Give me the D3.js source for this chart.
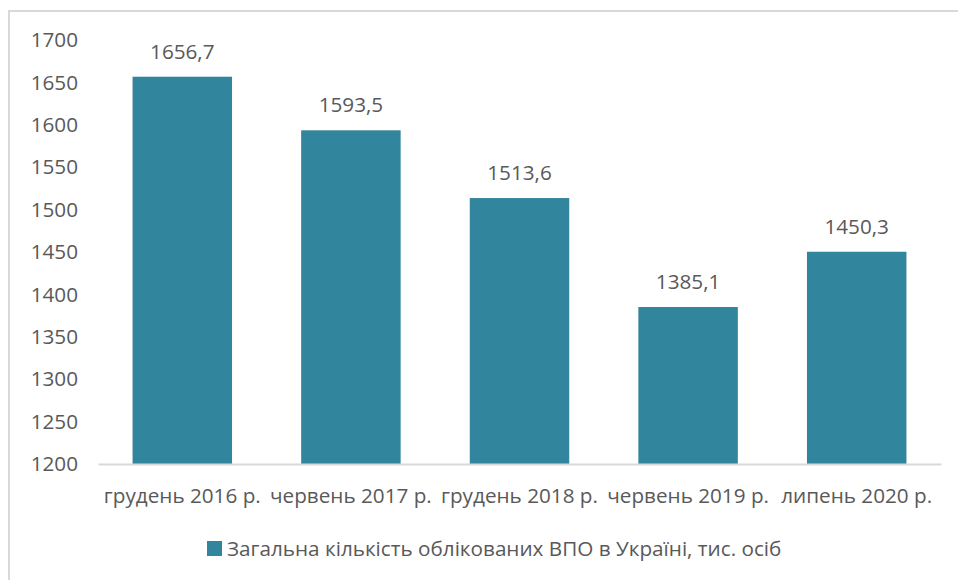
<!DOCTYPE html>
<html>
<head>
<meta charset="utf-8">
<script src="https://cdn.jsdelivr.net/npm/d3@7"></script>
<style>
  body { margin: 0; background: #fff; }
  svg { display: block; font-family: 'Open Sans', sans-serif; }
</style>
</head>
<body>
<script>
const categories = ['грудень 2016 р.', 'червень 2017 р.', 'грудень 2018 р.', 'червень 2019 р.', 'липень 2020 р.'];
const values = [1656.7, 1593.5, 1513.6, 1385.1, 1450.3];
const yTicks = [1200, 1250, 1300, 1350, 1400, 1450, 1500, 1550, 1600, 1650, 1700];
const seriesName = 'Загальна кількість облікованих ВПО в Україні, тис. осіб';

const width = 958, height = 580;
const textColor = '#595959';
const barColor = '#31859c';
const fontSize = '20.7px';

const svg = d3.select('body').append('svg').attr('width', width).attr('height', height);

// chart frame (only top and left edges visible)
svg.append('rect')
  .attr('x', 9).attr('y', 11)
  .attr('width', 1000).attr('height', 1000)
  .attr('fill', 'none')
  .attr('stroke', '#d9d9d9')
  .attr('stroke-width', 2);

const x = d3.scaleBand().domain(categories).range([98, 941]).paddingInner(0.41).paddingOuter(0.205);
const y = d3.scaleLinear().domain([1200, 1700]).range([464, 40]);

const yAxis = svg.append('g')
  .attr('transform', 'translate(78,0)')
  .call(d3.axisLeft(y).tickValues(yTicks).tickFormat(d3.format('d')).tickSize(0).tickPadding(0));
yAxis.select('.domain').remove();
yAxis.selectAll('text')
  .attr('fill', textColor)
  .style('font-size', fontSize)
  .style('font-family', "'Open Sans', sans-serif");

svg.selectAll('rect.bar')
  .data(values)
  .enter().append('rect')
    .attr('class', 'bar')
    .attr('x', (d, i) => x(categories[i]))
    .attr('width', x.bandwidth())
    .attr('y', d => y(d))
    .attr('height', d => y(1200) - y(d))
    .attr('fill', barColor);

svg.selectAll('text.label')
  .data(values)
  .enter().append('text')
    .attr('class', 'label')
    .attr('x', (d, i) => x(categories[i]) + x.bandwidth() / 2)
    .attr('y', d => y(d) - 18)
    .attr('text-anchor', 'middle')
    .attr('fill', textColor)
    .style('font-size', fontSize)
    .text(d => d.toFixed(1).replace('.', ','));

const xAxis = svg.append('g')
  .attr('transform', 'translate(0,464)')
  .call(d3.axisBottom(x).tickSize(0).tickPadding(0));
xAxis.select('.domain').attr('stroke', '#d9d9d9').attr('stroke-width', 2);
xAxis.selectAll('text')
  .attr('fill', textColor)
  .attr('y', 39)
  .attr('dy', 0)
  .style('font-size', fontSize)
  .style('font-family', "'Open Sans', sans-serif");

// legend
const legend = svg.append('g').attr('transform', 'translate(207,541)');
legend.append('rect').attr('width', 15).attr('height', 15).attr('fill', barColor);
legend.append('text')
  .attr('x', 20).attr('y', 7.5)
  .attr('dy', '0.35em')
  .attr('fill', textColor)
  .style('font-size', fontSize)
  .text(seriesName);
</script>
</body>
</html>
